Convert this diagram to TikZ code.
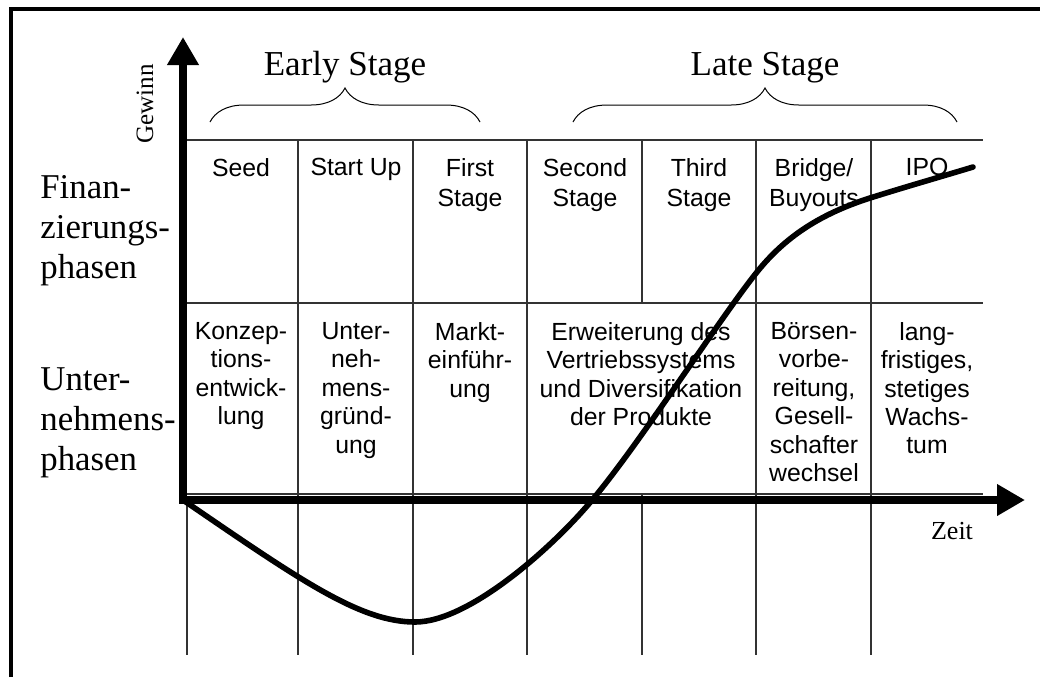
\documentclass[tikz,border=0pt]{standalone}
\usepackage{fontspec}
\setmainfont{Liberation Serif}
\newfontfamily\arial{Liberation Sans}
\usetikzlibrary{arrows.meta,decorations.pathreplacing}

\begin{document}
\begin{tikzpicture}[x=0.5pt, y=-0.5pt,
    achse/.style={line width=3.8pt,
        {Triangle[length=14pt,width=15pt]}-{Triangle[length=14pt,width=15pt]}},
    gitter/.style={line width=0.55pt, black!80},
    stufe/.style={anchor=north, inner sep=0pt, align=center,
        font=\arial\fontsize{12.4}{15}\selectfont},
    phase/.style={anchor=north, inner sep=0pt, align=center,
        font=\arial\fontsize{12.4}{14.2}\selectfont},
    seite/.style={anchor=north west, inner sep=0pt, align=left,
        font=\fontsize{17.4}{20}\selectfont},
    klammer/.style={decorate, decoration={brace, amplitude=17pt}, line width=0.5pt}]
\useasboundingbox (0,0) rectangle (1040,677);

% Rahmen
\draw[line width=2pt] (11,677) -- (11,9) -- (1040,9);

% Tabelle
\draw[gitter] (183,140) -- (983,140);
\draw[gitter] (183,303) -- (983,303);
\draw[gitter] (183,494) -- (983,494);
\foreach \x in {298,413,527,756,871}
    \draw[gitter] (\x,140) -- (\x,655);
\draw[gitter] (642,140) -- (642,303);
\draw[gitter] (642,494) -- (642,655);
\draw[gitter] (187,500) -- (187,655);

% Klammern
\draw[klammer] (210,122) -- (480,122);
\draw[klammer] (573,122) -- (957,122);
\node[anchor=base, font=\fontsize{17.5}{20}\selectfont] (early) at (345,75) {Early Stage};
\node[anchor=base, font=\fontsize{17.5}{20}\selectfont] (late) at (765,75) {Late Stage};

% Finanzierungsphasen
\node[stufe] (seed)   at (241,158) {Seed};
\node[stufe] (startup) at (356,158) {Start Up};
\node[stufe] (first)  at (470,158) {First\\Stage};
\node[stufe] (second) at (585,158) {Second\\Stage};
\node[stufe] (third)  at (699,158) {Third\\Stage};
\node[stufe] (bridge) at (814,158) {Bridge/\\Buyouts};
\node[stufe] (ipo)    at (927,158) {IPO};

% Unternehmensphasen
\node[phase] (konzept) at (241,322) {Konzep-\\tions-\\entwick-\\lung};
\node[phase] (gruendung) at (356,322) {Unter-\\neh-\\mens-\\gründ-\\ung};
\node[phase] (markt)   at (470,322) {Markt-\\einführ-\\ung};
\node[phase] (vertrieb) at (641,322) {Erweiterung des\\Vertriebssystems\\und Diversifikation\\der Produkte};
\node[phase] (boerse)  at (814,322) {Börsen-\\vorbe-\\reitung,\\Gesell-\\schafter\\wechsel};
\node[phase] (wachstum) at (927,322) {lang-\\fristiges,\\stetiges\\Wachs-\\tum};

% linke Beschriftung
\node[seite] (finanz) at (40,175) {Finan-\\zierungs-\\phasen};
\node[seite] (unternehmen) at (40,367) {Unter-\\nehmens-\\phasen};

% Achsen
\draw[achse] (183,37) -- (183,500) -- (1025,500);
\node[rotate=90, anchor=base, font=\fontsize{12.5}{15}\selectfont] (gewinn) at (153,104) {Gewinn};
\node[anchor=base, font=\fontsize{13}{15}\selectfont] (zeit) at (952,539) {Zeit};

% Gewinnkurve
\draw[line width=2.8pt, line cap=round]
    (183,500) .. controls (300,580) and (360,622) .. (415,622)
    .. controls (470,622) and (555,545) .. (593,499)
    .. controls (640,443) and (720,318) .. (757,272)
    .. controls (785,237) and (820,214) .. (870,198)
    .. controls (905,187) and (940,177) .. (973,167);

\end{tikzpicture}
\end{document}
